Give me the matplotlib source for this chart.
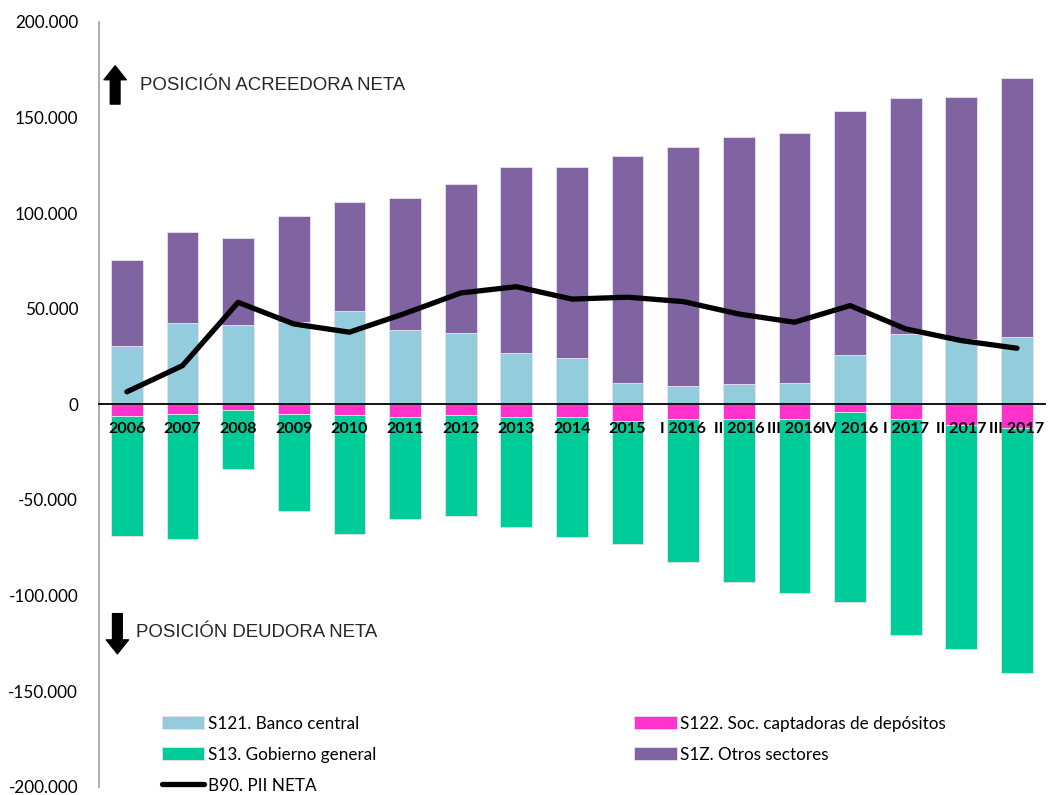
import numpy as np
import matplotlib.pyplot as plt
from matplotlib.ticker import FuncFormatter

categories = ["2006", "2007", "2008", "2009", "2010", "2011", "2012", "2013", "2014",
              "2015", "I 2016", "II 2016", "III 2016", "IV 2016", "I 2017", "II 2017", "III 2017"]

# millones de euros
s121_banco_central = [30.5, 42.5, 41.5, 42.9, 49.0, 38.9, 37.2, 26.9, 24.3,
                      11.2, 9.5, 10.4, 11.2, 26.0, 37.0, 34.2, 35.2]
s1z_otros = [44.9, 47.7, 45.2, 55.5, 56.8, 68.9, 77.8, 97.2, 99.8,
             118.7, 124.9, 129.4, 130.5, 127.5, 123.0, 126.7, 135.7]
s122_soc_captadoras = [-6.0, -5.0, -3.2, -5.0, -5.8, -6.9, -5.8, -6.9, -6.9,
                       -9.0, -7.9, -7.9, -7.9, -4.1, -7.9, -11.0, -12.4]
s13_gobierno = [-63.0, -65.5, -30.8, -51.0, -62.2, -53.1, -52.7, -57.1, -62.6,
                -64.0, -74.5, -85.3, -90.8, -99.1, -112.8, -117.0, -128.4]
b90_pii_neta = [6.5, 20.2, 53.3, 42.0, 37.7, 47.5, 58.2, 61.5, 55.0,
                56.0, 53.7, 47.2, 42.9, 51.6, 39.4, 33.3, 29.3]

k = 1000
x = np.arange(len(categories))
blue = np.array(s121_banco_central) * k
purple = np.array(s1z_otros) * k
magenta = np.array(s122_soc_captadoras) * k
green = np.array(s13_gobierno) * k
neta = np.array(b90_pii_neta) * k

fig = plt.figure(figsize=(10.49, 7.95), dpi=100)
ax = fig.add_axes([0.0944, 0.0105, 0.9016, 0.962])

w = 0.57
edge = dict(edgecolor="#e8e0f0", linewidth=0.6)
b1 = ax.bar(x, blue, w, color="#93CDDD", label="S121. Banco central", **edge)
b4 = ax.bar(x, purple, w, bottom=blue, color="#8064A2", label="S1Z. Otros sectores", **edge)
b2 = ax.bar(x, magenta, w, color="#FF33CC", label="S122. Soc. captadoras de depósitos", **edge)
b3 = ax.bar(x, green, w, bottom=magenta, color="#00CC99", label="S13. Gobierno general", **edge)
ln, = ax.plot(x, neta, color="black", lw=3.8, solid_capstyle="round",
              solid_joinstyle="round", label="B90. PII NETA", zorder=4)

ax.set_xlim(-0.5, len(categories) - 0.5)
ax.set_ylim(-200000, 200000)
ax.set_yticks(np.arange(-200000, 200001, 50000))
ax.yaxis.set_major_formatter(FuncFormatter(lambda v, p: f"{int(v):,}".replace(",", ".")))
ax.tick_params(axis="y", length=0, pad=15, labelsize=12.3)
for t in ax.get_yticklabels():
    t.set_fontfamily("Lato")

ax.spines["top"].set_visible(False)
ax.spines["right"].set_visible(False)
ax.spines["left"].set_color("#a0a0a0")
ax.spines["left"].set_linewidth(1.2)
ax.spines["bottom"].set_position(("data", 0))
ax.spines["bottom"].set_linewidth(1.3)
ax.spines["bottom"].set_zorder(3)

ax.set_xticks(x)
ax.set_xticklabels(categories, fontfamily="Lato", fontweight="bold", fontsize=11.6)
ax.tick_params(axis="x", length=0, pad=13)
for t in ax.get_xticklabels():
    t.set_zorder(5)

arrow = dict(facecolor="black", edgecolor="black", width=7, headwidth=16, headlength=10, shrink=0)
ax.annotate("", xy=(-0.21, 177000), xytext=(-0.21, 157000), arrowprops=arrow)
ax.annotate("", xy=(-0.17, -130500), xytext=(-0.17, -109500), arrowprops=arrow)
ax.text(0.23, 166500, "POSICIÓN ACREEDORA NETA", fontfamily="Liberation Sans",
        fontsize=13.4, color="#262626", va="center")
ax.text(0.16, -119500, "POSICIÓN DEUDORA NETA", fontfamily="Liberation Sans",
        fontsize=13.4, color="#262626", va="center")

handles = [b1, b3, ln, b2, b4]
ax.legend(handles, [h.get_label() for h in handles], ncol=2, frameon=False,
          loc="upper left", bbox_to_anchor=(0.05, 0.113),
          prop=dict(family="Lato", size=12.3), handlelength=2.5, handleheight=0.8,
          handletextpad=0.2, labelspacing=0.88, columnspacing=15.1)

fig.savefig("out.png", dpi=100)
